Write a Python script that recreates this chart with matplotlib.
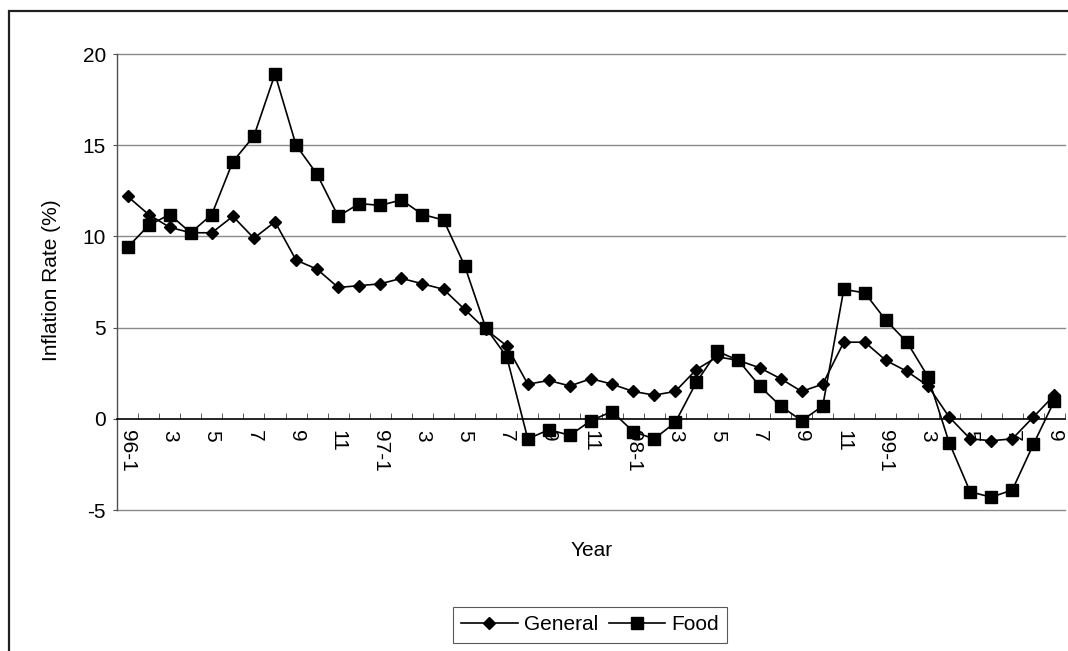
import numpy as np
import matplotlib.pyplot as plt
from matplotlib.patches import Rectangle

# Monthly inflation, Jan 1996 - Sep 1999 (%)
months = ['96-1', '2', '3', '4', '5', '6', '7', '8', '9', '10', '11', '12',
          '97-1', '2', '3', '4', '5', '6', '7', '8', '9', '10', '11', '12',
          '98-1', '2', '3', '4', '5', '6', '7', '8', '9', '10', '11', '12',
          '99-1', '2', '3', '4', '5', '6', '7', '8', '9']

general = [12.2, 11.2, 10.5, 10.2, 10.2, 11.1, 9.9, 10.8, 8.7, 8.2, 7.2, 7.3,
           7.4, 7.7, 7.4, 7.1, 6.0, 4.9, 4.0, 1.9, 2.1, 1.8, 2.2, 1.9,
           1.5, 1.3, 1.5, 2.7, 3.4, 3.2, 2.8, 2.2, 1.5, 1.9, 4.2, 4.2,
           3.2, 2.6, 1.8, 0.1, -1.1, -1.2, -1.1, 0.1, 1.3]

food = [9.4, 10.6, 11.2, 10.2, 11.2, 14.1, 15.5, 18.9, 15.0, 13.4, 11.1, 11.8,
        11.7, 12.0, 11.2, 10.9, 8.4, 5.0, 3.4, -1.1, -0.6, -0.9, -0.1, 0.4,
        -0.7, -1.1, -0.2, 2.0, 3.7, 3.2, 1.8, 0.7, -0.1, 0.7, 7.1, 6.9,
        5.4, 4.2, 2.3, -1.3, -4.0, -4.3, -3.9, -1.4, 1.0]

yticks = [-5, 0, 5, 10, 15, 20]

plt.rcParams['font.family'] = ['Liberation Sans', 'DejaVu Sans']

fig = plt.figure(figsize=(10.68, 6.51), dpi=100)
ax = fig.add_axes([117 / 1068, 1 - 510 / 651, 948 / 1068, 456 / 651])

x = np.arange(len(months))

# grid lines (the zero line is the category axis itself)
for yv in yticks:
    if yv != 0:
        ax.axhline(yv, color='#8a8a8a', lw=1.0, zorder=1, clip_on=False)

ax.plot(x, general, color='black', lw=1.2, marker='D', ms=6.5,
        label='General', zorder=3)
ax.plot(x, food, color='black', lw=1.2, marker='s', ms=9.3,
        label='Food', zorder=3)

ax.set_xlim(-0.5, len(months) - 0.5)
ax.set_ylim(-5, 20)

# category axis crosses at 0
ax.spines['bottom'].set_position(('data', 0))
ax.spines['bottom'].set_color('black')
ax.spines['bottom'].set_linewidth(1.2)
ax.spines['top'].set_visible(False)
ax.spines['right'].set_visible(False)
ax.spines['left'].set_color('#505050')
ax.spines['left'].set_linewidth(1.0)

ax.set_xticks(x[::2])
ax.set_xticklabels(months[::2], rotation=-90, fontsize=15)
ax.set_xticks(np.arange(len(months) + 1) - 0.5, minor=True)
ax.tick_params(axis='x', which='major', length=0, pad=8)
ax.tick_params(axis='x', which='minor', length=4, direction='in', color='#404040')
for lbl in ax.get_xticklabels():
    lbl.set_va('top')
    lbl.set_ha('center')

ax.set_yticks(yticks)
ax.set_yticklabels([str(v) for v in yticks], fontsize=15)
ax.tick_params(axis='y', length=3, color='#505050', pad=5)

fig.text(52 / 1068, 1 - 280 / 651, 'Inflation Rate (%)', rotation=90,
         ha='center', va='center', fontsize=15)
fig.text(592 / 1068, 1 - 550 / 651, 'Year', ha='center', va='center',
         fontsize=15)

leg = fig.legend(loc='center', bbox_to_anchor=(590 / 1068, 1 - 625 / 651),
                 ncol=2, fontsize=15, frameon=True, fancybox=False,
                 edgecolor='#303030', handlelength=2.7, handletextpad=0.3,
                 columnspacing=0.5, borderpad=0.4)
leg.get_frame().set_linewidth(0.8)

# outer chart border
fig.patches.append(Rectangle((9 / 1068, -0.1), 1.2, 1.1 - 11 / 651,
                             transform=fig.transFigure, fill=False,
                             edgecolor='#202020', lw=1.6))

fig.savefig('out.png', dpi=100)
